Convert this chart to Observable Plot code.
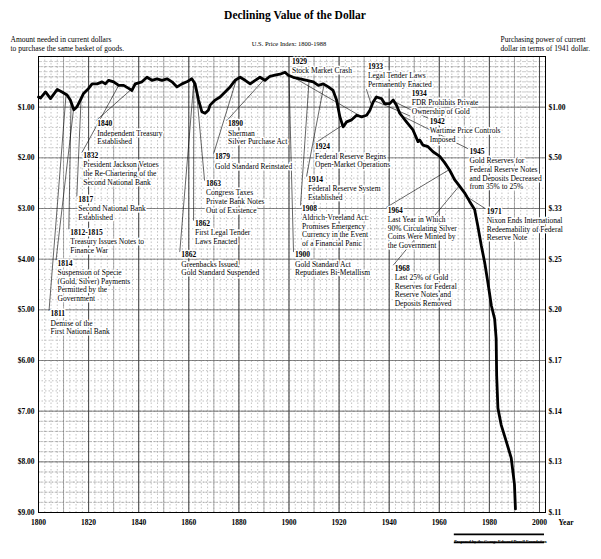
<!DOCTYPE html>
<html>
<head>
<meta charset="utf-8">
<script src="https://cdn.jsdelivr.net/npm/d3@7"></script>
<script src="https://cdn.jsdelivr.net/npm/@observablehq/plot@0.6"></script>
<style>
  html, body { margin: 0; padding: 0; background: white; }
</style>
</head>
<body>
<div id="chart"></div>
<script>
// ---- Data ----
const years = [1800.0,1800.8,1802.8,1804.8,1807.5,1809.4,1811.4,1812.7,1814.1,1815.4,1816.7,1818.0,1820.0,1821.4,1823.4,1825.4,1826.7,1828.0,1830.0,1832.0,1834.0,1836.0,1837.3,1838.6,1841.3,1843.3,1845.3,1847.3,1849.3,1851.3,1853.3,1855.3,1857.3,1859.2,1861.2,1862.5,1863.9,1865.2,1866.5,1867.8,1868.5,1870.5,1872.5,1874.5,1876.5,1878.5,1880.5,1882.5,1884.5,1886.5,1888.4,1890.4,1892.4,1894.4,1896.4,1898.4,1899.7,1901.7,1904.4,1907.1,1909.7,1911.7,1913.7,1915.7,1917.6,1919.0,1920.3,1921.6,1923.0,1925.0,1927.0,1929.0,1931.0,1932.3,1933.6,1934.9,1936.9,1938.2,1940.2,1941.6,1942.9,1944.2,1946.9,1949.5,1951.5,1952.2,1953.5,1955.5,1957.5,1960.2,1962.2,1964.1,1966.1,1968.1,1970.1,1972.1,1974.1,1975.4,1976.8,1978.1,1979.4,1980.8,1982.1,1982.7,1982.9,1983.4,1984.7,1986.7,1988.7,1990.0,1990.4];
const dollars = [0.80,0.82,0.70,0.83,0.65,0.70,0.76,0.86,1.05,0.99,0.86,0.73,0.63,0.54,0.54,0.50,0.54,0.47,0.50,0.57,0.57,0.63,0.67,0.54,0.50,0.41,0.47,0.44,0.47,0.44,0.50,0.60,0.54,0.50,0.44,0.54,0.86,1.09,1.12,1.06,0.96,0.86,0.80,0.70,0.60,0.47,0.41,0.47,0.54,0.47,0.41,0.47,0.39,0.37,0.35,0.31,0.37,0.41,0.44,0.47,0.50,0.57,0.54,0.60,0.67,0.86,1.19,1.39,1.29,1.25,1.16,1.19,1.16,1.06,0.90,0.80,0.83,0.93,0.93,0.86,0.96,1.12,1.29,1.45,1.68,1.65,1.75,1.78,1.88,1.97,2.10,2.24,2.43,2.56,2.69,2.86,3.02,3.35,3.74,4.06,4.46,4.92,5.18,5.57,6.29,6.94,7.27,7.59,7.92,8.44,8.93];

const yTicks = [1, 2, 3, 4, 5, 6, 7, 8, 9];
const leftTickLabels = ["$1.00","$2.00","$3.00","$4.00","$5.00","$6.00","$7.00","$8.00","$9.00"];
const rightTickLabels = ["$1.00","$.50","$.33","$.25","$.20","$.17","$.14","$.13","$.11"];
const xTickYears = [1800,1820,1840,1860,1880,1900,1920,1940,1960,1980,2000];

const annEvent = [1811,1814,1813,1817,1832,1840,1862,1862,1863,1879,1890,1900,1908,1914,1924,1929,1933,1934,1942,1945,1964,1968,1971];
const annYearText = ["1811","1814","1812-1815","1817","1832","1840","1862","1862","1863","1879","1890","1900","1908","1914","1924","1929","1933","1934","1942","1945","1964","1968","1971"];
const annBody = [
  "Demise of the\nFirst National Bank",
  "Suspension of Specie\n(Gold, Silver) Payments\nPermitted by the\nGovernment",
  "Treasury Issues Notes to\nFinance War",
  "Second National Bank\nEstablished",
  "President Jackson Vetoes\nthe Re-Chartering of the\nSecond National Bank",
  "Independent Treasury\nEstablished",
  "Greenbacks Issued,\nGold Standard Suspended",
  "First Legal Tender\nLaws Enacted",
  "Congress Taxes\nPrivate Bank Notes\nOut of Existence",
  "Gold Standard Reinstated",
  "Sherman\nSilver Purchase Act",
  "Gold Standard Act\nRepudiates Bi-Metallism",
  "Aldrich-Vreeland Act:\nPromises Emergency\nCurrency in the Event\nof a Financial Panic",
  "Federal Reserve System\nEstablished",
  "Federal Reserve Begins\nOpen-Market Operations",
  "Stock Market Crash",
  "Legal Tender Laws\nPermanently Enacted",
  "FDR Prohibits Private\nOwnership of Gold",
  "Wartime Price Controls\nImposed",
  "Gold Reserves for\nFederal Reserve Notes\nand Deposits Decreased\nfrom 35% to 25%",
  "Last Year in Which\n90% Circulating Silver\nCoins Were Minted by\nthe Government",
  "Last 25% of Gold\nReserves for Federal\nReserve Notes and\nDeposits Removed",
  "Nixon Ends International\nRedeemability of Federal\nReserve Note"
];
// label anchor (top-left) positions in data units
const annX = [1804.8,1807.6,1812.7,1815.9,1817.9,1823.5,1857.0,1862.5,1866.9,1870.5,1875.7,1902.4,1905.2,1907.6,1910.4,1901.2,1931.5,1949.0,1956.2,1972.1,1939.4,1942.2,1978.9];
const annY = [5.02,4.02,3.41,2.76,1.90,1.27,3.86,3.24,2.45,1.92,1.27,3.86,2.94,2.37,1.73,0.04,0.14,0.67,1.22,1.82,2.98,4.12,3.00];

// ---- build tables ----
const series = years.map((y, i) => ({year: y, dollars: dollars[i]}));
function curveAt(yr) {
  for (let i = 0; i < years.length - 1; i++) {
    if (yr >= years[i] && yr <= years[i + 1]) {
      const t = (yr - years[i]) / (years[i + 1] - years[i]);
      return dollars[i] + t * (dollars[i + 1] - dollars[i]);
    }
  }
  return dollars[dollars.length - 1];
}
const LH = 8.6;            // px line height
const PXPERDOLLAR = 51;    // approx, for leader start at block bottom
const anns = annEvent.map((e, i) => {
  const nLines = 1 + annBody[i].split("\n").length;
  const cv = curveAt(e);
  const below = cv < annY[i]; // curve above the label
  return {
    event: e, x: annX[i], y: annY[i], yearText: annYearText[i], body: annBody[i],
    lx: annX[i] - 0.6,
    ly: below ? annY[i] : annY[i] + nLines * LH / PXPERDOLLAR,
    cx: e, cy: cv
  };
});

const font = "'Liberation Serif', 'DejaVu Serif', serif";
const denseRows = d3.range(0, 1.001, 0.1).concat(d3.range(7, 9.001, 0.2));

const chart = Plot.plot({
  width: 601,
  height: 559,
  marginTop: 56,
  marginBottom: 47,
  marginLeft: 38,
  marginRight: 56,
  style: {fontFamily: font, fontSize: "7.5px", background: "white", color: "black"},
  x: {domain: [1800, 2002.4]},
  y: {domain: [0, 9], reverse: true},
  marks: [
    // graph-paper grid
    Plot.ruleY(d3.range(0, 9.01, 0.2), {stroke: "#888", strokeWidth: 0.5, strokeDasharray: "1.5,2"}),
    Plot.ruleY(denseRows, {stroke: "#999", strokeWidth: 0.5, strokeDasharray: "4,1.5"}),
    Plot.ruleX(d3.range(1800, 2001, 2.5), {stroke: "#888", strokeWidth: 0.5, strokeDasharray: "1.5,2"}),
    Plot.ruleY(yTicks, {stroke: "#555", strokeWidth: 0.7}),
    Plot.ruleX(d3.range(1810, 2001, 10), {stroke: "#777", strokeWidth: 0.6}),
    Plot.ruleX(xTickYears, {stroke: "#333", strokeWidth: 0.8}),
    Plot.frame({stroke: "black", strokeWidth: 1}),
    // axes
    Plot.axisY(yTicks, {anchor: "left", tickSize: 0, tickPadding: 4, tickFormat: d => leftTickLabels[d - 1], fontWeight: "bold", fontSize: 7.5}),
    Plot.axisY(yTicks, {anchor: "right", tickSize: 0, tickPadding: 3, tickFormat: d => rightTickLabels[d - 1], fontWeight: "bold", fontSize: 7.5}),
    Plot.axisX(xTickYears, {anchor: "bottom", tickSize: 0, tickPadding: 7, tickFormat: d => String(d), fontWeight: "bold", fontSize: 7.5}),
    // leader lines
    Plot.link(anns, {x1: "lx", y1: "ly", x2: "cx", y2: "cy", stroke: "black", strokeWidth: 0.6}),
    // the curve
    Plot.line(series, {x: "year", y: "dollars", stroke: "black", strokeWidth: 2.8, strokeLinejoin: "round", strokeLinecap: "round"}),
    // annotations
    Plot.text(anns, {x: "x", y: "y", text: "yearText", textAnchor: "start", lineAnchor: "top", fontWeight: "bold", fontSize: 7.5, stroke: "white", strokeWidth: 3, fill: "black"}),
    Plot.text(anns, {x: "x", y: "y", text: "body", textAnchor: "start", lineAnchor: "top", dy: LH, lineHeight: 1.15, fontSize: 7.5, stroke: "white", strokeWidth: 3, fill: "black"}),
    // titles and headers
    Plot.text(["Declining Value of the Dollar"], {frameAnchor: "top", dx: 3, dy: -41, fontSize: 11.5, fontWeight: "bold", lineAnchor: "middle"}),
    Plot.text(["U.S. Price Index: 1800-1988"], {frameAnchor: "top", dx: -3, dy: -13, fontSize: 6.5, lineAnchor: "middle"}),
    Plot.text(["Amount needed in current dollars\nto purchase the same basket of goods."], {frameAnchor: "top-left", dx: -28, dy: -20, textAnchor: "start", lineAnchor: "top", lineHeight: 1.1, fontSize: 7.5}),
    Plot.text(["Purchasing power of current\ndollar in terms of 1941 dollar."], {frameAnchor: "top-right", dx: -45, dy: -20, textAnchor: "start", lineAnchor: "top", lineHeight: 1.1, fontSize: 7.5}),
    Plot.text(["Year"], {frameAnchor: "bottom-right", dx: 13, dy: 10, textAnchor: "start", lineAnchor: "middle", fontWeight: "bold", fontSize: 7.5}),
    Plot.ruleY([9.43, 9.59], {x1: 1966, x2: 2002, stroke: "black", strokeWidth: 1.8}),
    Plot.text(["Prepared by the George Edward Durell Foundation"], {frameAnchor: "bottom-right", dx: -45, dy: 29, textAnchor: "middle", lineAnchor: "middle", fontWeight: "bold", fontSize: 4.2})
  ]
});
document.getElementById("chart").appendChild(chart);
</script>
</body>
</html>
